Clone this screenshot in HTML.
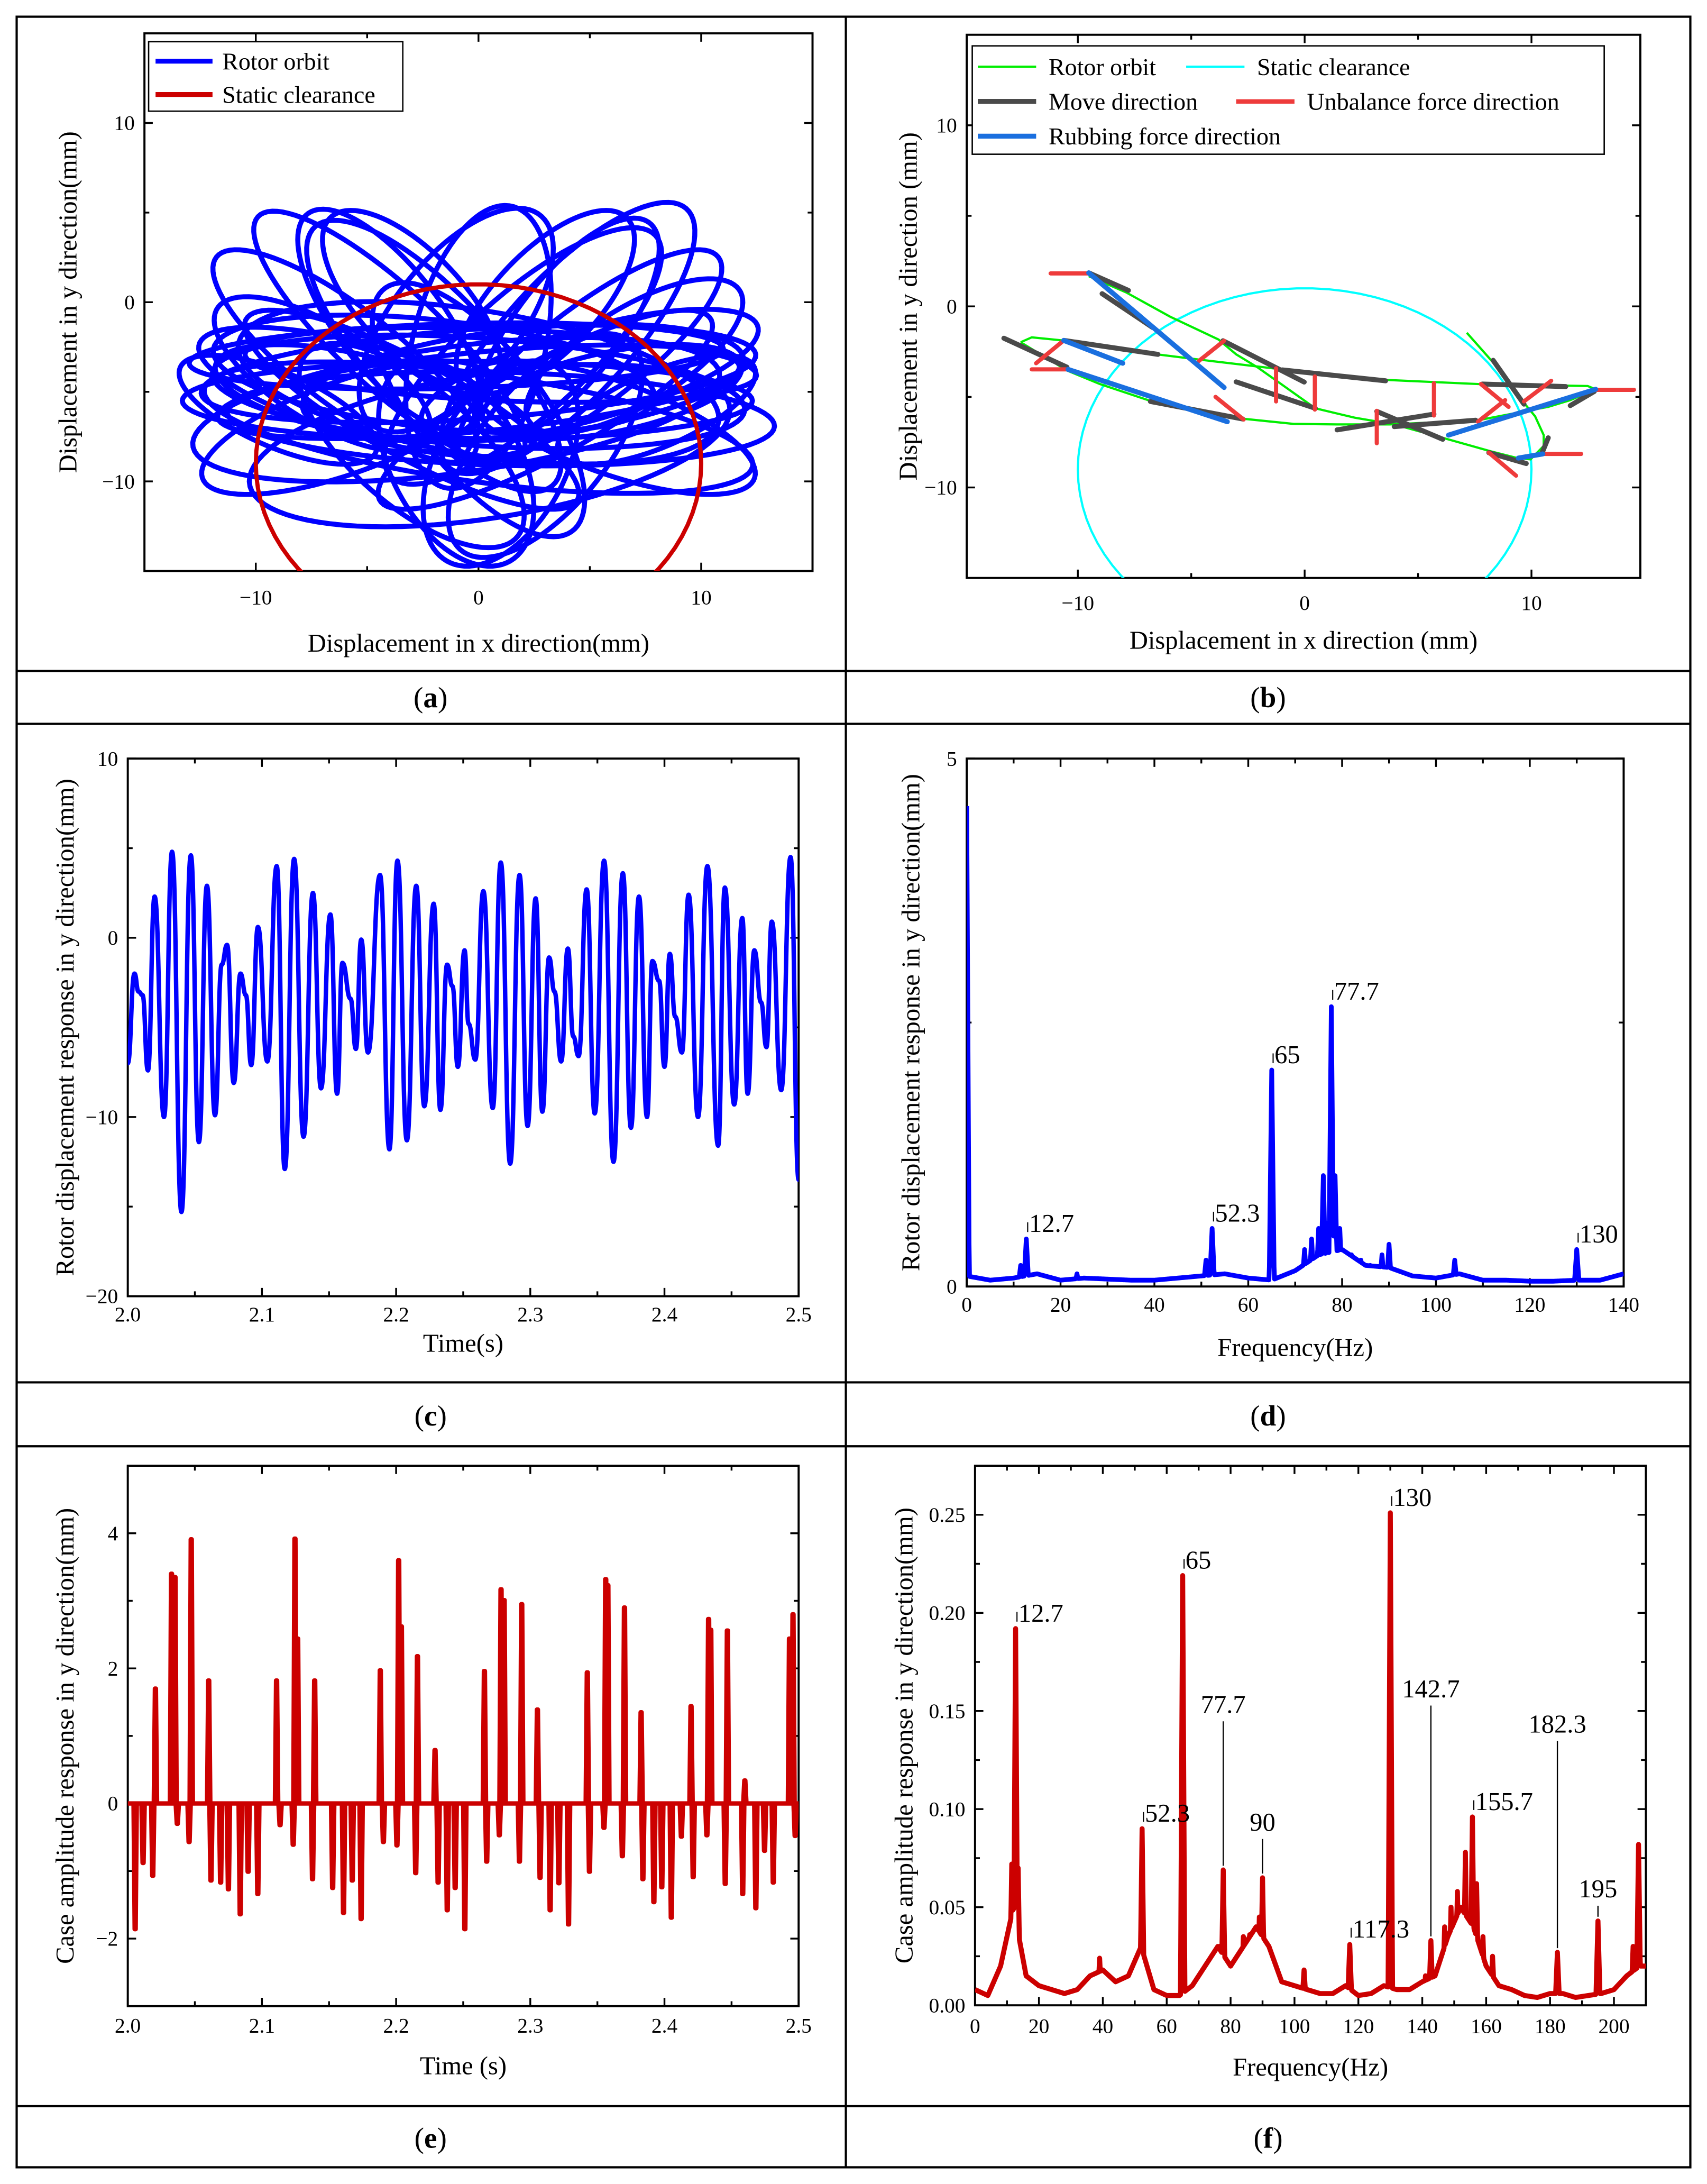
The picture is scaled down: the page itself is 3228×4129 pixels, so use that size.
<!DOCTYPE html>
<html><head><meta charset="utf-8"><style>
html,body{margin:0;padding:0;background:#fff}
svg{display:block;font-family:"Liberation Serif","Times New Roman",serif}
svg text{font-family:"Liberation Serif","Times New Roman",serif;fill:#000}
</style></head><body>
<svg id="fig" xmlns="http://www.w3.org/2000/svg" width="3228" height="4129" viewBox="0 0 1229 1572" font-family="Liberation Serif, serif">
<rect x="0" y="0" width="1229" height="1572" fill="#fff"/>
<g stroke="#000" stroke-width="1.6" fill="none">
<rect x="12" y="12" width="1205" height="1548"/>
<line x1="609" y1="12" x2="609" y2="1560"/>
<line x1="12" y1="483" x2="1217" y2="483"/>
<line x1="12" y1="521" x2="1217" y2="521"/>
<line x1="12" y1="995" x2="1217" y2="995"/>
<line x1="12" y1="1041" x2="1217" y2="1041"/>
<line x1="12" y1="1516" x2="1217" y2="1516"/>
</g>
<g font-size="21" text-anchor="middle">
<text x="310" y="509" font-family="Liberation Serif, serif">(<tspan font-weight="bold">a</tspan>)</text>
<text x="913" y="509" font-family="Liberation Serif, serif">(<tspan font-weight="bold">b</tspan>)</text>
<text x="310" y="1026" font-family="Liberation Serif, serif">(<tspan font-weight="bold">c</tspan>)</text>
<text x="913" y="1026" font-family="Liberation Serif, serif">(<tspan font-weight="bold">d</tspan>)</text>
<text x="310" y="1546" font-family="Liberation Serif, serif">(<tspan font-weight="bold">e</tspan>)</text>
<text x="913" y="1546" font-family="Liberation Serif, serif">(<tspan font-weight="bold">f</tspan>)</text>
</g>
</svg>
<script>
// ---------- DATA ----------
// (a) orbit loops: centers, semi-axes, tilt (deg)
const orbitCx=[0,0,-1,1,0,-0.5,0.5,0,-6,-4,-2,2,5,4,-1,0,3,-3,1,-1,7,-7,8,-9,-3,3,-6,6,-1,1,0,-2,2,-5,5,-4,4,0,-3,3,6,-6];
const orbitCy=[-4,-5,-6,-3.5,-7,-5.5,-8,-4.5,-3,-2,-3,-3,-3,-2,-1,-6,-8,-8,-9,-9,-3,-4,-6,-6,0,0,-7,-7,-3,-6.5,-5,-4,-4.5,-5,-4,-1,-1.5,-2.5,-6,-6,-5,-5];
const orbitA=[12.5,12,12,11.5,12.5,12.8,11,11,8,9,9,9,8,9,7,8,7,7,6,6,6,6,5,5,6,6,7,7,12,12.3,11.8,10,10,8,8,7,7,8,9,9,6,6];
const orbitB=[2.5,3,3.5,2,3,2.2,4,4,2.5,2.5,3,3,2.5,3,3,3,3,3,3,3,2.5,2.5,2,2,2.5,2.5,2.5,2.5,1.8,2.6,2.2,3,3,2.5,2.5,2.5,2.5,3,2.5,2.5,2.2,2.2];
const orbitTilt=[5,-5,10,-3,-10,0,12,-12,-45,-50,-55,50,45,55,60,-60,60,-50,70,-70,40,-40,30,-30,-55,55,25,-25,2,-2,7,-8,8,-20,20,-60,60,80,-35,35,15,-15];
const clearCx=0, clearCy=-9, clearR=10;
// (b) orbit and direction segments (x1,y1,x2,y2 in mm)
const orbitBx1=[-12.52,-12.03,-10.68,-6.51,-4.77,-1.28,3.57,7.64,12.48,12.83,11.71,10.74,7.64,3.76,1.43,-0.50,-2.83,-4.77,-6.90,-9.03,-10.48,-12.52];
const orbitBy1=[-1.98,-1.71,-1.88,-2.65,-2.92,-3.44,-4.06,-4.29,-4.40,-4.58,-5.18,-5.55,-6.29,-6.52,-6.52,-6.49,-6.19,-5.77,-5.18,-4.29,-3.54,-1.98];
const orbitBx2=[7.15,8.31,9.57,10.16,10.54,10.54,9.96,9.38,8.22,6.09,3.95,2.21,0.47,-2.05,-3.02,-3.80,-5.93,-7.87,-9.52];
const orbitBy2=[-1.46,-3.10,-5.18,-6.07,-7.11,-7.71,-8.45,-8.38,-8.01,-7.26,-6.52,-6.15,-5.63,-3.39,-2.65,-1.83,-0.57,0.77,1.67];
const moveX1=[-9.52,-8.93,-3.60,-13.26,-10.62,-0.99,-3.02,-6.80,1.43,3.18,3.95,7.83,8.31,11.71,8.12,10.45];
const moveY1=[1.85,0.70,-1.90,-1.76,-1.88,-3.51,-4.17,-5.25,-6.82,-5.80,-6.64,-4.29,-2.98,-5.48,-8.08,-8.15];
const moveX2=[-7.77,-6.71,-0.02,-10.48,-6.47,3.57,0.47,-2.73,5.70,6.09,7.54,11.51,9.67,12.77,9.77,10.74];
const moveY2=[0.88,-1.16,-4.18,-3.36,-2.65,-4.11,-5.63,-6.22,-5.95,-7.34,-6.29,-4.43,-5.40,-4.70,-8.68,-7.26];
const unbX1=[-11.20,-11.84,-12.03,-4.67,-3.93,-1.26,0.45,3.18,5.70,7.77,7.64,9.67,12.77,8.12,10.45];
const unbY1=[1.82,-3.14,-3.48,-3.02,-5.00,-3.42,-3.87,-5.77,-4.24,-4.29,-6.37,-5.25,-4.61,-8.08,-8.15];
const unbX2=[-9.52,-10.62,-10.43,-3.55,-2.69,-1.26,0.45,3.18,5.70,8.99,8.84,10.87,14.52,9.32,12.19];
const unbY2=[1.82,-1.88,-3.48,-1.90,-6.25,-5.25,-5.70,-7.56,-6.03,-5.55,-5.18,-4.11,-4.61,-9.35,-8.15];
const rubX1=[-9.52,-10.62,-10.43,6.34,9.42];
const rubY1=[1.85,-1.88,-3.48,-7.11,-8.38];
const rubX2=[-3.55,-8.02,-3.41,12.83,10.50];
const rubY2=[-4.48,-3.14,-6.37,-4.58,-8.15];
// (c) rotor displacement extrema
const cTime=[2.000,2.005,2.008,2.011,2.015,2.020,2.027,2.033,2.040,2.047,2.053,2.059,2.065,2.070,2.074,2.079,2.084,2.088,2.092,2.097,2.104,2.111,2.117,2.124,2.131,2.138,2.144,2.151,2.156,2.160,2.166,2.170,2.174,2.179,2.188,2.195,2.201,2.208,2.215,2.221,2.228,2.233,2.238,2.242,2.246,2.251,2.254,2.259,2.265,2.272,2.278,2.285,2.292,2.298,2.304,2.309,2.314,2.318,2.323,2.328,2.332,2.336,2.342,2.348,2.355,2.362,2.369,2.375,2.381,2.387,2.391,2.396,2.400,2.404,2.408,2.413,2.418,2.425,2.432,2.440,2.445,2.452,2.458,2.462,2.467,2.472,2.476,2.480,2.487,2.494,2.500];
const cDisp=[-7,-2.0,-3.0,-3.2,-7.4,2.3,-10,4.8,-15.3,4.6,-11.4,2.9,-9.9,-1.5,-0.4,-8.1,-2.0,-3.2,-7.1,0.6,-6.9,4.0,-12.9,4.4,-11.1,2.5,-8.4,1.3,-8.7,-1.4,-3.4,-6.2,-0.1,-6.4,3.5,-11.8,4.3,-11.3,2.9,-9.4,1.9,-9.6,-1.5,-2.7,-7.2,-0.7,-4.8,-6.8,2.6,-9.5,4.2,-12.6,3.5,-10.5,2.2,-9.7,-1.1,-3.0,-6.9,-0.6,-5.5,-6.6,2.7,-9.8,4.3,-12.5,3.6,-10.6,2.3,-10.0,-1.3,-2.4,-7.2,-0.9,-4.4,-6.4,2.4,-10.0,4.0,-11.6,2.8,-9.3,1.1,-8.7,-0.7,-3.6,-6.1,0.9,-8.5,4.5,-13.5];
// (d) rotor spectrum
const dBgFreq=[0,5,10,15,20,25,30,35,40,45,50,55,60,65,70,75,80,85,90,95,100,105,110,115,120,125,130,135,140];
const dBgAmp=[0.1,0.06,0.08,0.12,0.06,0.08,0.07,0.06,0.06,0.08,0.1,0.12,0.08,0.06,0.15,0.3,0.35,0.2,0.18,0.1,0.08,0.12,0.06,0.06,0.05,0.05,0.06,0.06,0.12];
const dPeakFreq=[0,11.5,12.7,23.5,51,52.3,65,72,73.5,75,76,76.8,77.7,78.5,79.5,82,84,86,88.5,90,104,130];
const dPeakAmp=[4.55,0.2,0.45,0.12,0.25,0.55,2.05,0.35,0.45,0.55,1.05,0.6,2.65,1.05,0.55,0.3,0.25,0.2,0.3,0.4,0.25,0.35];
const dLabelFreq=[12.7,52.3,65,77.7,130];
const dLabelText=['12.7','52.3','65','77.7','130'];
// (e) case amplitude spikes
const eTime=[2.0055,2.0114,2.0186,2.0206,2.0326,2.0352,2.0369,2.0457,2.0473,2.0603,2.0620,2.0692,2.0750,2.0838,2.0897,2.0969,2.1109,2.1135,2.1233,2.1246,2.1266,2.1377,2.1393,2.1527,2.1608,2.1673,2.1739,2.1882,2.1905,2.2006,2.2019,2.2039,2.2146,2.2159,2.2290,2.2313,2.2381,2.2440,2.2512,2.2658,2.2675,2.2769,2.2782,2.2805,2.2919,2.2936,2.3053,2.3073,2.3148,2.3213,2.3285,2.3425,2.3441,2.3549,2.3562,2.3578,2.3686,2.3702,2.3826,2.3839,2.3921,2.3980,2.4051,2.4126,2.4198,2.4214,2.4316,2.4329,2.4345,2.4453,2.4469,2.4583,2.4599,2.4681,2.4746,2.4811,2.4932,2.4958,2.4974];
const eAmp=[-1.86,-0.88,-1.07,1.70,3.40,3.35,-0.30,-0.57,3.91,1.82,-1.14,-1.17,-1.27,-1.64,-1.01,-1.34,1.82,-0.32,-0.61,3.92,2.44,-1.12,1.82,-1.25,-1.62,-1.14,-1.71,1.97,-0.57,-0.62,3.60,2.62,-1.03,2.18,0.79,-1.17,-1.58,-1.25,-1.86,1.96,-0.86,-0.47,3.17,3.01,-0.86,2.95,1.39,-1.10,-1.58,-1.18,-1.79,1.94,-1.01,-0.36,3.32,3.23,-0.78,2.90,1.35,-1.12,-1.46,-1.24,-1.69,-0.49,1.44,-1.09,-0.47,2.73,2.57,-1.19,2.56,-1.34,0.34,-1.55,-0.70,-1.17,2.44,2.80,-0.48];
// (f) case spectrum
const fBgFreq=[0,4,8,12,16,20,24,28,32,36,40,44,48,52,56,60,64,68,72,76,80,84,88,92,96,100,104,108,112,116,120,124,128,132,136,140,144,148,152,156,160,164,168,172,176,180,184,188,192,196,200,204,208];
const fBgAmp=[0.008,0.005,0.02,0.05,0.015,0.01,0.008,0.006,0.008,0.015,0.018,0.012,0.015,0.03,0.008,0.005,0.005,0.01,0.02,0.03,0.02,0.03,0.04,0.03,0.012,0.01,0.008,0.006,0.006,0.01,0.005,0.006,0.01,0.008,0.008,0.012,0.015,0.035,0.05,0.04,0.02,0.01,0.008,0.005,0.004,0.006,0.006,0.004,0.005,0.006,0.008,0.015,0.02];
const fPeakFreq=[11.5,12.7,13.5,39,52.3,65,76.5,77.7,84,86,89,90,103,117.3,130,141,142.7,147,149,151,153.5,155.7,157,159,162,182.3,195,206,207.7];
const fPeakAmp=[0.072,0.192,0.07,0.024,0.090,0.219,0.03,0.069,0.035,0.036,0.045,0.065,0.018,0.031,0.251,0.015,0.033,0.04,0.05,0.058,0.078,0.096,0.062,0.035,0.025,0.027,0.043,0.03,0.082];
const fLabelFreq=[12.7,52.3,65,77.7,90,117.3,130,142.7,155.7,182.3,195];
const fLabelText=['12.7','52.3','65','77.7','90','117.3','130','142.7','155.7','182.3','195'];
const fLabelLead=[0,0,0,1,1,0,0,1,0,1,1];
const fLabelY=[0,0,0,0.149,0.089,0,0,0.157,0,0.139,0.055];

// ---------- HELPERS ----------
const NS='http://www.w3.org/2000/svg';
const svg=document.getElementById('fig');
const SERIF='Liberation Serif, Times New Roman, serif';
function mk(tag,attrs,parent){const e=document.createElementNS(NS,tag);for(const k in attrs)e.setAttribute(k,attrs[k]);if(tag==='text')e.setAttribute('font-family',SERIF);(parent||svg).appendChild(e);return e;}
function axis(px0,px1,py0,py1,xmin,xmax,ymin,ymax){return {px0,px1,py0,py1,sx:v=>px0+(v-xmin)/(xmax-xmin)*(px1-px0),sy:v=>py1-(v-ymin)/(ymax-ymin)*(py1-py0)};}
function fmtNeg(v){return v<0?'\u2212'+Math.abs(v):String(v);}
function frame(ax,id,o){
  const g=mk('g',{});
  
  
  const cp=mk('clipPath',{id:id+'-clip'},g);
  mk('rect',{x:ax.px0,y:ax.py0,width:ax.px1-ax.px0,height:ax.py1-ax.py0},cp);
  const tk=mk('path',{stroke:'#000','stroke-width':1.3,fill:'none'},g);
  
  
  let d='';
  o.xMaj.forEach(v=>{const x=ax.sx(v);d+=`M${x},${ax.py1}v-6M${x},${ax.py0}v6`;});
  o.xMin.forEach(v=>{const x=ax.sx(v);d+=`M${x},${ax.py1}v-3.5M${x},${ax.py0}v3.5`;});
  o.yMaj.forEach(v=>{const y=ax.sy(v);d+=`M${ax.px0},${y}h6M${ax.px1},${y}h-6`;});
  o.yMin.forEach(v=>{const y=ax.sy(v);d+=`M${ax.px0},${y}h3.5M${ax.px1},${y}h-3.5`;});
  tk.setAttribute('d',d);
  o.xMaj.forEach((v,i)=>{
    const t=mk('text',{x:ax.sx(v),y:ax.py1+o.xOff,'font-size':15,'text-anchor':'middle'},g);
    
    
    t.textContent=o.xFmt(v);
  });
  o.yMaj.forEach(v=>{
    const t=mk('text',{x:ax.px0-7,y:ax.sy(v)+5,'font-size':15,'text-anchor':'end'},g);
    
    
    t.textContent=o.yFmt(v);
  });
  const xl=mk('text',{x:(ax.px0+ax.px1)/2,y:o.xTitleY,'font-size':18.5,'text-anchor':'middle'},g);
  
  
  xl.textContent=o.xTitle;
  const yc=(ax.py0+ax.py1)/2;
  const yl=mk('text',{x:o.yTitleX,y:yc,'font-size':18.5,'text-anchor':'middle',transform:`rotate(-90 ${o.yTitleX} ${yc})`},g);
  
  
  yl.textContent=o.yTitle;
  const box=mk('rect',{x:ax.px0,y:ax.py0,width:ax.px1-ax.px0,height:ax.py1-ax.py0,fill:'none',stroke:'#000','stroke-width':1.5},g);
  
  
  return g;
}
function ellipsePath(ax,cx,cy,a,b,deg){
  const t=deg*Math.PI/180;let d='';
  for(let k=0;k<=90;k++){const p=k/90*2*Math.PI;
    const x=cx+a*Math.cos(p)*Math.cos(t)-b*Math.sin(p)*Math.sin(t);
    const y=cy+a*Math.cos(p)*Math.sin(t)+b*Math.sin(p)*Math.cos(t);
    d+=(k?'L':'M')+ax.sx(x).toFixed(2)+','+ax.sy(y).toFixed(2);}
  return d+'Z';
}
function circlePath(ax,cx,cy,r){return ellipsePath(ax,cx,cy,r,r,0);}
function interp(xs,ys,x){if(x<=xs[0])return ys[0];for(let i=1;i<xs.length;i++){if(x<=xs[i]){const f=(x-xs[i-1])/(xs[i]-xs[i-1]);return ys[i-1]+f*(ys[i]-ys[i-1]);}}return ys[ys.length-1];}
function spectrumPath(ax,bgF,bgA,pF,pA,hw,fmax,step){
  let d='';
  for(let k=0;k*step<=fmax+1e-9;k++){const f=k*step;let v=interp(bgF,bgA,f);
    for(let i=0;i<pF.length;i++){const w=pA[i]*(1-Math.abs(f-pF[i])/hw);if(w>v)v=w;}
    d+=(k?'L':'M')+ax.sx(f).toFixed(2)+','+ax.sy(v).toFixed(2);}
  return d;
}
function peakVal(bgF,bgA,pF,pA,f){let v=interp(bgF,bgA,f);for(let i=0;i<pF.length;i++){if(Math.abs(pF[i]-f)<0.01&&pA[i]>v)v=pA[i];}return v;}

// ---------- PANEL A ----------
const axA=axis(104,585,24,411,-15,15,-15,15);
const gA=frame(axA,'panel-a',{xMaj:[-10,0,10],xMin:[-5,5],yMaj:[-10,0,10],yMin:[-5,5],xFmt:fmtNeg,yFmt:fmtNeg,xOff:24,xTitleY:469,xTitle:'Displacement in x direction(mm)',yTitleX:55,yTitle:'Displacement in y direction(mm)'});
const gAd=mk('g',{'clip-path':'url(#panel-a-clip)'},gA);


for(let i=0;i<orbitCx.length;i++){
  const p=mk('path',{d:ellipsePath(axA,orbitCx[i],orbitCy[i],orbitA[i],orbitB[i],orbitTilt[i]),fill:'none',stroke:'#0000ff','stroke-width':3.6},gAd);
  
  
}
const cA=mk('path',{d:circlePath(axA,clearCx,clearCy,clearR),fill:'none',stroke:'#cc0000','stroke-width':3},gAd);


const legA=mk('g',{},gA);


mk('rect',{x:107,y:30,width:183,height:50,fill:'#fff',stroke:'#000','stroke-width':1},legA);
const la1=mk('line',{x1:112,y1:44,x2:153,y2:44,stroke:'#0000ff','stroke-width':3.5},legA);


const lt1=mk('text',{x:160,y:50,'font-size':17.5},legA);


lt1.textContent='Rotor orbit';
const la2=mk('line',{x1:112,y1:68,x2:153,y2:68,stroke:'#cc0000','stroke-width':3.5},legA);


const lt2=mk('text',{x:160,y:74,'font-size':17.5},legA);


lt2.textContent='Static clearance';

// ---------- PANEL B ----------
const axB=axis(696,1181,25,416,-14.9,14.8,-15,15);
const gB=frame(axB,'panel-b',{xMaj:[-10,0,10],xMin:[-5,5],yMaj:[-10,0,10],yMin:[-5,5],xFmt:fmtNeg,yFmt:fmtNeg,xOff:23,xTitleY:467,xTitle:'Displacement in x direction (mm)',yTitleX:660,yTitle:'Displacement in y direction (mm)'});
const gBd=mk('g',{'clip-path':'url(#panel-b-clip)'},gB);


const cB=mk('path',{d:circlePath(axB,clearCx,clearCy,clearR),fill:'none',stroke:'#00ffff','stroke-width':1.6},gBd);


function polyPath(ax,xs,ys){return xs.map((x,i)=>(i?'L':'M')+ax.sx(x).toFixed(2)+','+ax.sy(ys[i]).toFixed(2)).join('');}
const oB1=mk('path',{d:polyPath(axB,orbitBx1,orbitBy1),fill:'none',stroke:'#00ee00','stroke-width':1.6},gBd);


const oB2=mk('path',{d:polyPath(axB,orbitBx2,orbitBy2),fill:'none',stroke:'#00ee00','stroke-width':1.6},gBd);


function segs(x1,y1,x2,y2,color,w,name){
  for(let i=0;i<x1.length;i++){
    const l=mk('line',{x1:axB.sx(x1[i]),y1:axB.sy(y1[i]),x2:axB.sx(x2[i]),y2:axB.sy(y2[i]),stroke:color,'stroke-width':w,'stroke-linecap':'round'},gBd);
    
    
  }
}
segs(moveX1,moveY1,moveX2,moveY2,'#4a4a4a',3.6,'move-direction-segment');
segs(unbX1,unbY1,unbX2,unbY2,'#ee3b3b',3,'unbalance-force-segment');
segs(rubX1,rubY1,rubX2,rubY2,'#1a6fdf',3.6,'rubbing-force-segment');
const legB=mk('g',{},gB);


mk('rect',{x:700,y:33,width:455,height:78,fill:'#fff',stroke:'#000','stroke-width':1},legB);
const legItems=[[704,48,'#00ee00',1.6,755,'Rotor orbit'],[854,48,'#00ffff',1.6,905,'Static clearance'],[704,73,'#4a4a4a',3.6,755,'Move direction'],[890,73,'#ee3b3b',3.2,941,'Unbalance force direction'],[704,98,'#1a6fdf',3.6,755,'Rubbing force direction']];
legItems.forEach(it=>{
  const s=mk('line',{x1:it[0],y1:it[1],x2:it[0]+42,y2:it[1],stroke:it[2],'stroke-width':it[3]},legB);
  
  
  const t=mk('text',{x:it[4],y:it[1]+6,'font-size':17.5},legB);
  
  
  t.textContent=it[5];
});

// ---------- PANEL C ----------
const axC=axis(92,575,546,933,2.0,2.5,-20,10);
const gC=frame(axC,'panel-c',{xMaj:[2.0,2.1,2.2,2.3,2.4,2.5],xMin:[2.05,2.15,2.25,2.35,2.45],yMaj:[-20,-10,0,10],yMin:[-15,-5,5],xFmt:v=>v.toFixed(1),yFmt:fmtNeg,xOff:18,xTitleY:973,xTitle:'Time(s)',yTitleX:53,yTitle:'Rotor displacement response in y direction(mm)'});
let dc='';
for(let i=0;i<cTime.length;i++){
  const x=axC.sx(cTime[i]),y=axC.sy(cDisp[i]);
  if(i===0){dc+=`M${x.toFixed(2)},${y.toFixed(2)}`;continue;}
  const xp=axC.sx(cTime[i-1]),yp=axC.sy(cDisp[i-1]),m=(x-xp)/2;
  dc+=`C${(xp+m).toFixed(2)},${yp.toFixed(2)} ${(x-m).toFixed(2)},${y.toFixed(2)} ${x.toFixed(2)},${y.toFixed(2)}`;
}
const gCd=mk('g',{'clip-path':'url(#panel-c-clip)'},gC);


const lc=mk('path',{d:dc,fill:'none',stroke:'#0000ff','stroke-width':3.2,'stroke-linejoin':'round'},gCd);



// ---------- PANEL D ----------
const axD=axis(696,1169,546,926,0,140,0,5);
const gD=frame(axD,'panel-d',{xMaj:[0,20,40,60,80,100,120,140],xMin:[10,30,50,70,90,110,130],yMaj:[0,5],yMin:[2.5],xFmt:String,yFmt:String,xOff:18,xTitleY:976,xTitle:'Frequency(Hz)',yTitleX:662,yTitle:'Rotor displacement response in y direction(mm)'});
const gDd=mk('g',{'clip-path':'url(#panel-d-clip)'},gD);


const ld=mk('path',{d:spectrumPath(axD,dBgFreq,dBgAmp,dPeakFreq,dPeakAmp,0.55,140,0.1),fill:'none',stroke:'#0000ff','stroke-width':3.4,'stroke-linejoin':'round'},gDd);


dLabelFreq.forEach((f,i)=>{
  const v=peakVal(dBgFreq,dBgAmp,dPeakFreq,dPeakAmp,f);
  const x=axD.sx(f)+1,y=axD.sy(v)-5;
  const m=mk('line',{x1:x,y1:y,x2:x,y2:y-7,stroke:'#000','stroke-width':0.8},gD);
  
  
  const t=mk('text',{x:x+1,y:y,'font-size':18.5},gD);
  
  
  t.textContent=dLabelText[i];
});

// ---------- PANEL E ----------
const axE=axis(92,575,1055,1444,2.0,2.5,-3,5);
const gE=frame(axE,'panel-e',{xMaj:[2.0,2.1,2.2,2.3,2.4,2.5],xMin:[2.05,2.15,2.25,2.35,2.45],yMaj:[-2,0,2,4],yMin:[-3,-1,1,3,5],xFmt:v=>v.toFixed(1),yFmt:fmtNeg,xOff:19,xTitleY:1493,xTitle:'Time (s)',yTitleX:53,yTitle:'Case amplitude response in y direction(mm)'});
const gEd=mk('g',{'clip-path':'url(#panel-e-clip)'},gE);


const base=mk('line',{x1:axE.sx(2.0),y1:axE.sy(0),x2:axE.sx(2.5),y2:axE.sy(0),stroke:'#cc0000','stroke-width':3.2},gEd);


const hw=0.0012;
for(let i=0;i<eTime.length;i++){
  const p=mk('path',{d:`M${axE.sx(eTime[i]-hw)},${axE.sy(0)}L${axE.sx(eTime[i]-hw*0.3)},${axE.sy(eAmp[i])}L${axE.sx(eTime[i]+hw*0.3)},${axE.sy(eAmp[i])}L${axE.sx(eTime[i]+hw)},${axE.sy(0)}`,fill:'none',stroke:'#cc0000','stroke-width':3.2,'stroke-linejoin':'round'},gEd);
  
  
}

// ---------- PANEL F ----------
const axF=axis(702,1185,1055,1443.4,0,210,0,0.275);
const gF=frame(axF,'panel-f',{xMaj:[0,20,40,60,80,100,120,140,160,180,200],xMin:[10,30,50,70,90,110,130,150,170,190,210],yMaj:[0,0.05,0.1,0.15,0.2,0.25],yMin:[0.025,0.075,0.125,0.175,0.225],xFmt:String,yFmt:v=>v.toFixed(2),xOff:20,xTitleY:1494,xTitle:'Frequency(Hz)',yTitleX:657,yTitle:'Case amplitude response in y direction(mm)'});
const gFd=mk('g',{'clip-path':'url(#panel-f-clip)'},gF);


const lf=mk('path',{d:spectrumPath(axF,fBgFreq,fBgAmp,fPeakFreq,fPeakAmp,0.7,210,0.1),fill:'none',stroke:'#cc0000','stroke-width':3.6,'stroke-linejoin':'round'},gFd);


fLabelFreq.forEach((f,i)=>{
  const v=peakVal(fBgFreq,fBgAmp,fPeakFreq,fPeakAmp,f);
  const x=axF.sx(f);
  if(fLabelLead[i]){
    const ty=axF.sy(fLabelY[i]);
    const m=mk('line',{x1:x,y1:ty+6,x2:x,y2:axF.sy(v)-3,stroke:'#000','stroke-width':0.9},gF);
    
    
    const t=mk('text',{x:x,y:ty,'font-size':18.5,'text-anchor':'middle'},gF);
    
    
    t.textContent=fLabelText[i];
  } else {
    const y=axF.sy(v)-5;
    const m=mk('line',{x1:x+1,y1:y,x2:x+1,y2:y-7,stroke:'#000','stroke-width':0.8},gF);
    
    
    const t=mk('text',{x:x+2,y:y,'font-size':18.5},gF);
    
    
    t.textContent=fLabelText[i];
  }
});
</script>
</body></html>
